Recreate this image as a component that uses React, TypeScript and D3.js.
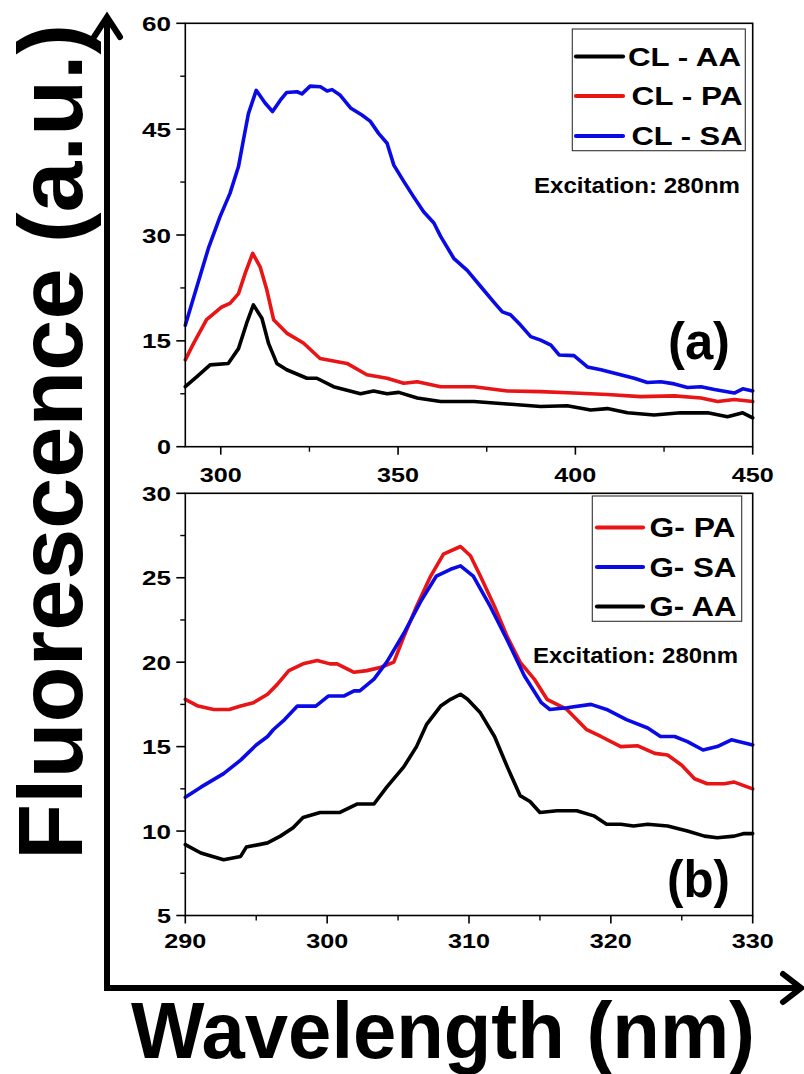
import React from "react";
import * as d3 from "d3";

// ---- Panel (a): 290–450 nm emission, excitation 280 nm ----
const clAA: [number, number][] = [
  [290, 8.5], [293.2, 9.9], [297, 11.6], [302.1, 11.8], [305, 13.9], [307.3, 17.5], [309.2, 20.1],
  [311.6, 18.2], [313.5, 14.6], [315.8, 11.8], [318.6, 10.9], [324.3, 9.7], [327.1, 9.7], [331.8, 8.5],
  [339.4, 7.5], [343.1, 7.9], [346.9, 7.5], [350.2, 7.7], [355.4, 6.9], [362, 6.4], [371.4, 6.4],
  [380.8, 6.05], [390.2, 5.7], [397.7, 5.8], [404.3, 5.2], [409, 5.4], [414.7, 4.8], [422.2, 4.5],
  [429.7, 4.8], [437.3, 4.8], [442.9, 4.25], [447.2, 4.8], [450, 4.1],
];
const clPA: [number, number][] = [
  [290, 12.3], [292.3, 14.6], [296, 18.0], [300.3, 19.8], [302.6, 20.3], [305, 21.7], [306.9, 24.6],
  [309, 27.4], [311.1, 25.5], [313, 22.2], [314.9, 18.0], [318.6, 16.1], [323.3, 14.7], [328, 12.5],
  [335.6, 11.8], [341.2, 10.2], [346.9, 9.7], [351.6, 9.0], [355.4, 9.2], [362, 8.5], [371.4, 8.5],
  [380.8, 7.9], [390.2, 7.8], [399.6, 7.6], [409, 7.4], [418.4, 7.1], [427.9, 7.2], [435.4, 6.9],
  [440.1, 6.4], [444.8, 6.7], [450, 6.4],
];
const clSA: [number, number][] = [
  [290, 17.2], [296.5, 28.1], [299.8, 32.6], [302.6, 35.9], [305, 39.7], [306.4, 43.5], [307.8, 47.2],
  [310, 50.5], [312.5, 48.7], [314.6, 47.5], [316.8, 49.1], [318.6, 50.2], [321.5, 50.3], [322.9, 50.0],
  [325.2, 51.1], [328.1, 51.0], [330, 50.4], [331.4, 50.6], [333.7, 49.8], [336.6, 48.0], [339.8, 47.0],
  [342.2, 46.1], [344.5, 44.4], [346.9, 43.0], [348.8, 39.9], [351.6, 37.6], [354.4, 35.4], [357.2, 33.3],
  [360.1, 31.7], [362, 29.8], [365.7, 26.7], [369.5, 25.0], [373.3, 22.7], [377, 20.5], [379.4, 19.1],
  [381.7, 18.7], [384.6, 17.2], [387.4, 15.6], [390.2, 15.1], [393.1, 14.4], [395.4, 13.0], [399.6, 12.9],
  [403.4, 11.3], [407.2, 10.9], [411.9, 10.3], [416.6, 9.7], [420.3, 9.1], [424.1, 9.2], [427.9, 8.9],
  [431.6, 8.4], [435.4, 8.5], [439.2, 8.1], [444.8, 7.6], [447.2, 8.2], [450, 7.9],
];

// ---- Panel (b): 290–330 nm emission ----
const gPA: [number, number][] = [
  [290, 17.8], [290.9, 17.4], [292, 17.2], [293.1, 17.2], [293.9, 17.4], [294.8, 17.6], [295.8, 18.1],
  [296.5, 18.7], [297.3, 19.5], [298.3, 19.9], [299.3, 20.1], [300.2, 19.9], [300.7, 19.9], [301.9, 19.4],
  [302.8, 19.5], [303.8, 19.7], [304.7, 20.0], [305.4, 21.5], [306.3, 23.3], [307.3, 25.1], [308.2, 26.4],
  [309.4, 26.85], [310.1, 26.3], [310.8, 25.1], [311.8, 23.3], [312.7, 21.5], [313.6, 20.0], [314.6, 19.0],
  [315.5, 17.8], [316.9, 17.2], [318.3, 16.0], [319.3, 15.6], [320.7, 15.0], [321.9, 15.05], [323.1, 14.6],
  [324, 14.5], [325, 13.9], [325.9, 13.1], [326.8, 12.8], [328, 12.8], [328.7, 12.9], [330, 12.5],
];
const gSA: [number, number][] = [
  [290, 12.0], [291.1, 12.6], [292.7, 13.4], [293.9, 14.2], [295, 15.1], [295.8, 15.6], [296.2, 16.0],
  [297, 16.6], [297.9, 17.4], [299.2, 17.4], [300.1, 18.0], [301.2, 18.0], [301.9, 18.3], [302.3, 18.3],
  [303.3, 19.0], [304.2, 20.0], [305.4, 21.7], [306.6, 23.6], [307.7, 25.1], [308.7, 25.5], [309.4, 25.7],
  [310.3, 25.1], [311.5, 23.3], [312.7, 21.3], [313.9, 19.2], [315.1, 17.6], [315.7, 17.2], [316.9, 17.3],
  [318.6, 17.5], [319.7, 17.2], [321.1, 16.6], [322.6, 16.1], [323.5, 15.6], [324.5, 15.6], [325.4, 15.3],
  [326.5, 14.8], [327.5, 15.0], [328.5, 15.4], [330, 15.1],
];
const gAA: [number, number][] = [
  [290, 9.2], [291.1, 8.7], [292.7, 8.3], [293.9, 8.5], [294.3, 9.05], [295.8, 9.3], [296.7, 9.7],
  [297.6, 10.2], [298.3, 10.8], [299.5, 11.1], [300.9, 11.1], [302.1, 11.6], [303.3, 11.6], [304.2, 12.6],
  [305.4, 13.8], [306.3, 15.0], [307, 16.3], [308, 17.4], [308.7, 17.8], [309.4, 18.1], [309.9, 17.8],
  [310.8, 17.0], [311.8, 15.6], [312.7, 13.8], [313.6, 12.1], [314.3, 11.75], [315, 11.1], [316.2, 11.2],
  [317.6, 11.2], [318.8, 10.9], [319.7, 10.4], [320.7, 10.4], [321.6, 10.3], [322.6, 10.4], [324, 10.3],
  [325.4, 10.0], [326.6, 9.7], [327.5, 9.6], [328.7, 9.7], [329.4, 9.85], [330, 9.85],
];

const yTicksA = [0, 15, 30, 45, 60];
const yMinorA = [7.5, 22.5, 37.5, 52.5];
const xTicksA = [300, 350, 400, 450];
const xMinorA = [325, 375, 425];
const yTicksB = [5, 10, 15, 20, 25, 30];
const yMinorB = [7.5, 12.5, 17.5, 22.5, 27.5];
const xTicksB = [290, 300, 310, 320, 330];
const xMinorB = [295, 305, 315, 325];

const legendA = ["CL - AA", "CL - PA", "CL - SA"];
const legendB = ["G- PA", "G- SA", "G- AA"];

const BLACK = "#000000";
const RED = "#e81416";
const BLUE = "#0a0ae6";
const FONT = "'Liberation Sans', Arial, Helvetica, sans-serif";

type Series = { data: [number, number][]; color: string };

function Panel(props: {
  left: number; right: number; top: number; bottom: number;
  xDomain: [number, number]; yDomain: [number, number];
  xTicks: number[]; xMinor: number[]; yTicks: number[]; yMinor: number[];
  series: Series[];
  xLabelBaseline: number;
}) {
  const { left, right, top, bottom, xDomain, yDomain, xTicks, xMinor, yTicks, yMinor, series } = props;
  const x = d3.scaleLinear().domain(xDomain).range([left, right]);
  const y = d3.scaleLinear().domain(yDomain).range([bottom, top]);
  const line = d3.line<[number, number]>().x((d) => x(d[0])).y((d) => y(d[1]));
  const digitW = 14;
  return (
    <g>
      {series.map((s, i) => (
        <path key={i} d={line(s.data) || ""} fill="none" stroke={s.color} strokeWidth={3.6}
          strokeLinejoin="round" strokeLinecap="round" />
      ))}
      <rect x={left} y={top} width={right - left} height={bottom - top} fill="none" stroke="#000" strokeWidth={1.6} />
      {yTicks.map((t) => (
        <g key={"y" + t}>
          <line x1={left - 9} x2={left} y1={y(t)} y2={y(t)} stroke="#000" strokeWidth={1.6} />
          <text x={171 - String(t).length * digitW - (String(t).length - 1) * 1} y={y(t) + 7.5}
            textLength={String(t).length * digitW + (String(t).length - 1) * 1} lengthAdjust="spacingAndGlyphs"
            fontFamily={FONT} fontWeight="bold" fontSize={21}>{t}</text>
        </g>
      ))}
      {yMinor.map((t) => (
        <line key={"ym" + t} x1={left - 5} x2={left} y1={y(t)} y2={y(t)} stroke="#000" strokeWidth={1.4} />
      ))}
      {xTicks.map((t) => (
        <g key={"x" + t}>
          <line x1={x(t)} x2={x(t)} y1={bottom} y2={bottom + 8} stroke="#000" strokeWidth={1.6} />
          <text x={x(t) - 21} y={props.xLabelBaseline} textLength={42} lengthAdjust="spacingAndGlyphs"
            fontFamily={FONT} fontWeight="bold" fontSize={21}>{t}</text>
        </g>
      ))}
      {xMinor.map((t) => (
        <line key={"xm" + t} x1={x(t)} x2={x(t)} y1={bottom} y2={bottom + 5} stroke="#000" strokeWidth={1.4} />
      ))}
    </g>
  );
}

function Legend(props: { x: number; y: number; w: number; h: number; rows: { label: string; color: string; ly: number; tx: number; tw: number }[]; fontSize: number; lx0: number; lx1: number }) {
  return (
    <g>
      <rect x={props.x} y={props.y} width={props.w} height={props.h} fill="#fff" stroke="#333" strokeWidth={1.1} />
      {props.rows.map((r, i) => (
        <g key={i}>
          <line x1={props.lx0} x2={props.lx1} y1={r.ly} y2={r.ly} stroke={r.color} strokeWidth={4.2} strokeLinecap="round" />
          <text x={r.tx} y={r.ly + props.fontSize * 0.36} textLength={r.tw} lengthAdjust="spacingAndGlyphs"
            fontFamily={FONT} fontWeight="bold" fontSize={props.fontSize}>{r.label}</text>
        </g>
      ))}
    </g>
  );
}

export default function App() {
  return (
    <div style={{ position: "absolute", left: 0, top: 0 }}>
      <svg width={804} height={1074} viewBox="0 0 804 1074" style={{ display: "block", background: "#fff" }}>
        <rect width={804} height={1074} fill="#fff" />

        <Panel left={185.3} right={752.7} top={23.3} bottom={446.7} xDomain={[290, 450]} yDomain={[0, 60]}
          xTicks={xTicksA} xMinor={xMinorA} yTicks={yTicksA} yMinor={yMinorA} xLabelBaseline={481.5}
          series={[{ data: clAA, color: BLACK }, { data: clPA, color: RED }, { data: clSA, color: BLUE }]} />

        <Panel left={185.3} right={752.7} top={493.3} bottom={915.5} xDomain={[290, 330]} yDomain={[5, 30]}
          xTicks={xTicksB} xMinor={xMinorB} yTicks={yTicksB} yMinor={yMinorB} xLabelBaseline={948.3}
          series={[{ data: gPA, color: RED }, { data: gSA, color: BLUE }, { data: gAA, color: BLACK }]} />

        <Legend x={572.3} y={29} w={173} h={121.7} fontSize={26} lx0={576} lx1={623}
          rows={[
            { label: legendA[0], color: BLACK, ly: 56.5, tx: 628, tw: 113 },
            { label: legendA[1], color: RED, ly: 96, tx: 631.5, tw: 111 },
            { label: legendA[2], color: BLUE, ly: 136, tx: 631.5, tw: 111 },
          ]} />
        <text x={534} y={193} textLength={206} lengthAdjust="spacingAndGlyphs" fontFamily={FONT}
          fontWeight="bold" fontSize={22}>Excitation: 280nm</text>
        <text x={668} y={359} textLength={62} lengthAdjust="spacingAndGlyphs" fontFamily={FONT}
          fontWeight="bold" fontSize={52}>(a)</text>

        <Legend x={592.3} y={496} w={149.4} h={125.3} fontSize={27} lx0={597} lx1={643}
          rows={[
            { label: legendB[0], color: RED, ly: 527.5, tx: 649.5, tw: 86 },
            { label: legendB[1], color: BLUE, ly: 567, tx: 649.5, tw: 87 },
            { label: legendB[2], color: BLACK, ly: 606.5, tx: 649.5, tw: 87 },
          ]} />
        <text x={533} y={663} textLength={205} lengthAdjust="spacingAndGlyphs" fontFamily={FONT}
          fontWeight="bold" fontSize={22}>Excitation: 280nm</text>
        <text x={667} y={897} textLength={63} lengthAdjust="spacingAndGlyphs" fontFamily={FONT}
          fontWeight="bold" fontSize={52}>(b)</text>

        {/* outer axes with arrowheads */}
        <line x1={107} y1={991} x2={107} y2={18} stroke="#000" strokeWidth={6} />
        <polyline points="94,37 107,17 120,37" fill="none" stroke="#000" strokeWidth={6}
          strokeLinecap="round" strokeLinejoin="miter" />
        <line x1={104} y1={988} x2={799} y2={988} stroke="#000" strokeWidth={6} />
        <polyline points="783,974 801,988 783,1002" fill="none" stroke="#000" strokeWidth={6}
          strokeLinecap="round" strokeLinejoin="miter" />

        <text transform="translate(82,442) rotate(-90)" textAnchor="middle" textLength={836}
          lengthAdjust="spacingAndGlyphs" fontFamily={FONT} fontWeight="bold" fontSize={90}>Fluorescence (a.u.)</text>
        <text x={443} y={1058} textAnchor="middle" textLength={624} lengthAdjust="spacingAndGlyphs"
          fontFamily={FONT} fontWeight="bold" fontSize={79}>Wavelength (nm)</text>
      </svg>
    </div>
  );
}
